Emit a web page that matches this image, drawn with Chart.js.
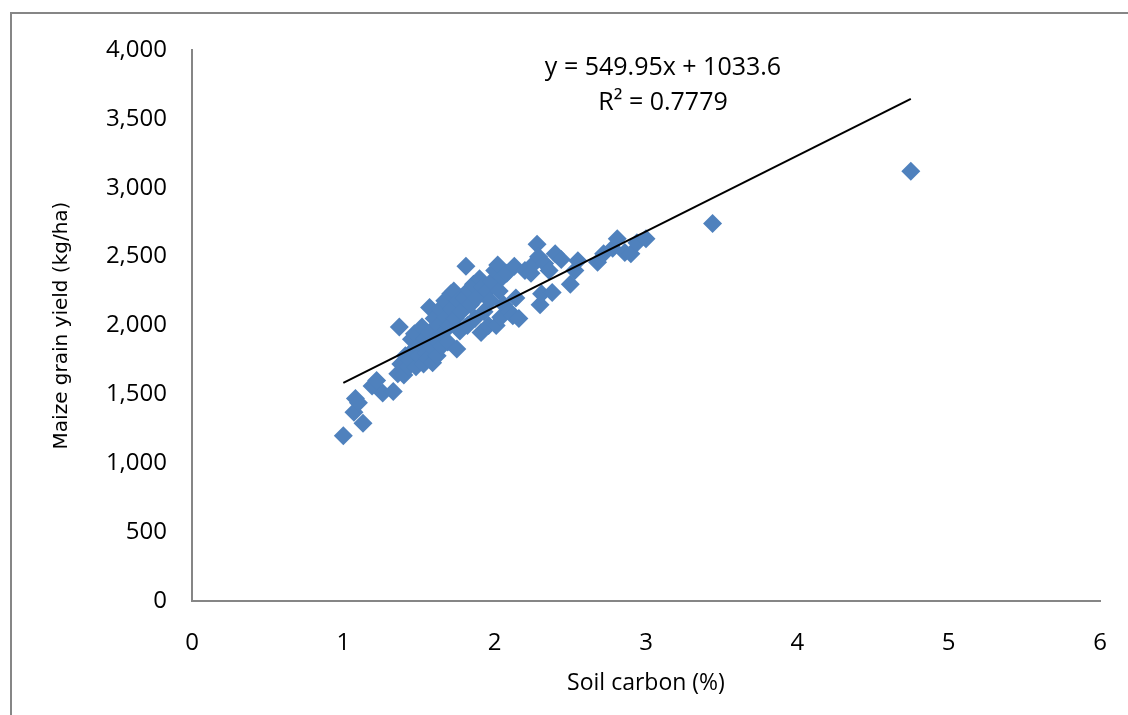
<!DOCTYPE html>
<html>
<head>
<meta charset="utf-8">
<script src="https://cdn.jsdelivr.net/npm/chart.js@4.4.1/dist/chart.umd.min.js"></script>
<style>
    body { margin: 0; background: #fff; }
    #wrap { width: 1128px; height: 715px; }
</style>
</head>
<body>
<div id="wrap"><canvas id="chart" width="1128" height="715"></canvas></div>
<script>
// soil carbon (%) vs maize grain yield (kg/ha)
const carbon = [
    1.00, 1.07, 1.08, 1.10, 1.13, 1.19, 1.22, 1.26, 1.33, 1.36,
    1.37, 1.38, 1.40, 1.41, 1.43, 1.44, 1.45, 1.46, 1.47, 1.48,
    1.50, 1.51, 1.52, 1.53, 1.54, 1.55, 1.56, 1.57, 1.57, 1.58,
    1.59, 1.60, 1.61, 1.62, 1.63, 1.64, 1.65, 1.66, 1.67, 1.68,
    1.69, 1.70, 1.71, 1.72, 1.73, 1.74, 1.75, 1.76, 1.77, 1.78,
    1.80, 1.81, 1.82, 1.83, 1.84, 1.86, 1.87, 1.88, 1.90, 1.91,
    1.92, 1.93, 1.95, 1.96, 1.97, 1.98, 2.00, 2.01, 2.02, 2.03,
    2.04, 2.05, 2.06, 2.08, 2.10, 2.12, 2.13, 2.14, 2.16, 2.20,
    2.24, 2.26, 2.28, 2.29, 2.30, 2.31, 2.33, 2.36, 2.38, 2.40,
    2.44, 2.50, 2.53, 2.55, 2.68, 2.72, 2.78, 2.81, 2.86, 2.90,
    2.94, 3.00, 3.44, 4.75
];
const grainYield = [
    1200, 1370, 1470, 1440, 1290, 1560, 1600, 1510, 1520, 1650,
    1990, 1720, 1640, 1780, 1700, 1750, 1900, 1820, 1940, 1700,
    1780, 1860, 1990, 1720, 1900, 1800, 1760, 2130, 1950, 1850,
    1730, 2050, 1900, 1780, 2000, 2120, 1850, 1950, 2180, 2060,
    1880, 2000, 2230, 2120, 2250, 2050, 1830, 2180, 1960, 2100,
    2200, 2430, 2000, 2260, 2150, 2300, 2050, 2200, 2340, 1950,
    2280, 2100, 2250, 2000, 2180, 2320, 2400, 2000, 2440, 2250,
    2060, 2350, 2150, 2380, 2100, 2070, 2430, 2200, 2050, 2400,
    2380, 2450, 2590, 2500, 2150, 2230, 2450, 2400, 2240, 2520,
    2480, 2300, 2400, 2470, 2460, 2520, 2560, 2630, 2530, 2520,
    2600, 2630, 2740, 3120
];

// linear fit printed on the chart
const slope = 549.95;
const intercept = 1033.6;
const rSquared = 0.7779;
const fitRange = [1.0, 4.75];

const xTicks = [0, 1, 2, 3, 4, 5, 6];
const yTicks = [0, 500, 1000, 1500, 2000, 2500, 3000, 3500, 4000];

const points = carbon.map((c, i) => ({ x: c, y: grainYield[i] }));
const fitLine = fitRange.map(x => ({ x: x, y: slope * x + intercept }));

const axisGray = '#868686';

// frame around the chart and the fit equation
const decorations = {
    id: 'decorations',
    beforeDraw(chart) {
        const ctx = chart.ctx;
        ctx.save();
        ctx.strokeStyle = axisGray;
        ctx.lineWidth = 2;
        ctx.beginPath();
        ctx.moveTo(11, 715);
        ctx.lineTo(11, 13);
        ctx.lineTo(1128, 13);
        ctx.stroke();
        ctx.restore();
    },
    afterDraw(chart) {
        const ctx = chart.ctx;
        ctx.save();
        ctx.fillStyle = '#000';
        ctx.font = '25px "Open Sans"';
        ctx.textAlign = 'center';
        ctx.textBaseline = 'middle';
        ctx.fillText('y = ' + slope + 'x + ' + intercept, 663, 68);
        ctx.fillText('R\u00b2 = ' + rSquared, 663, 103);
        ctx.restore();
    }
};

new Chart(document.getElementById('chart'), {
    type: 'scatter',
    data: {
        datasets: [{
            label: 'Yield',
            data: points,
            pointStyle: 'rectRot',
            pointRadius: 9.5,
            pointHoverRadius: 9.5,
            backgroundColor: '#4F81BD',
            borderColor: '#4F81BD',
            borderWidth: 0,
            order: 2
        }, {
            type: 'line',
            label: 'Linear fit',
            data: fitLine,
            borderColor: '#000',
            borderWidth: 2,
            pointRadius: 0,
            fill: false,
            order: 1
        }]
    },
    options: {
        responsive: false,
        animation: false,
        layout: { padding: { left: 0, top: 50, right: 28, bottom: 0 } },
        plugins: {
            legend: { display: false },
            tooltip: { enabled: false }
        },
        scales: {
            x: {
                type: 'linear',
                min: 0,
                max: 6,
                afterBuildTicks: axis => { axis.ticks = xTicks.map(v => ({ value: v })); },
                afterFit: axis => {
                    axis.height = 114;
                    axis.paddingRight = 0;
                    axis.paddingLeft = 0;
                },
                grid: { display: false, drawTicks: false },
                border: { display: true, color: axisGray, width: 2 },
                ticks: {
                    color: '#000',
                    padding: 28,
                    font: { family: 'Open Sans', size: 24 }
                },
                title: {
                    display: true,
                    text: 'Soil carbon (%)',
                    color: '#000',
                    font: { family: 'Open Sans', size: 23 },
                    padding: { top: 0, bottom: 18 }
                }
            },
            y: {
                type: 'linear',
                min: 0,
                max: 4000,
                afterBuildTicks: axis => { axis.ticks = yTicks.map(v => ({ value: v })); },
                afterFit: axis => { axis.width = 192; },
                grid: { display: false, drawTicks: false },
                border: { display: true, color: axisGray, width: 2 },
                ticks: {
                    color: '#000',
                    padding: 25,
                    font: { family: 'Open Sans', size: 24 },
                    callback: v => v.toLocaleString('en-US')
                },
                title: {
                    display: true,
                    text: 'Maize grain yield (kg/ha)',
                    color: '#000',
                    font: { family: 'DejaVu Sans', size: 20 },
                    padding: { top: 50, bottom: 0 }
                }
            }
        }
    },
    plugins: [decorations]
});
</script>
</body>
</html>
